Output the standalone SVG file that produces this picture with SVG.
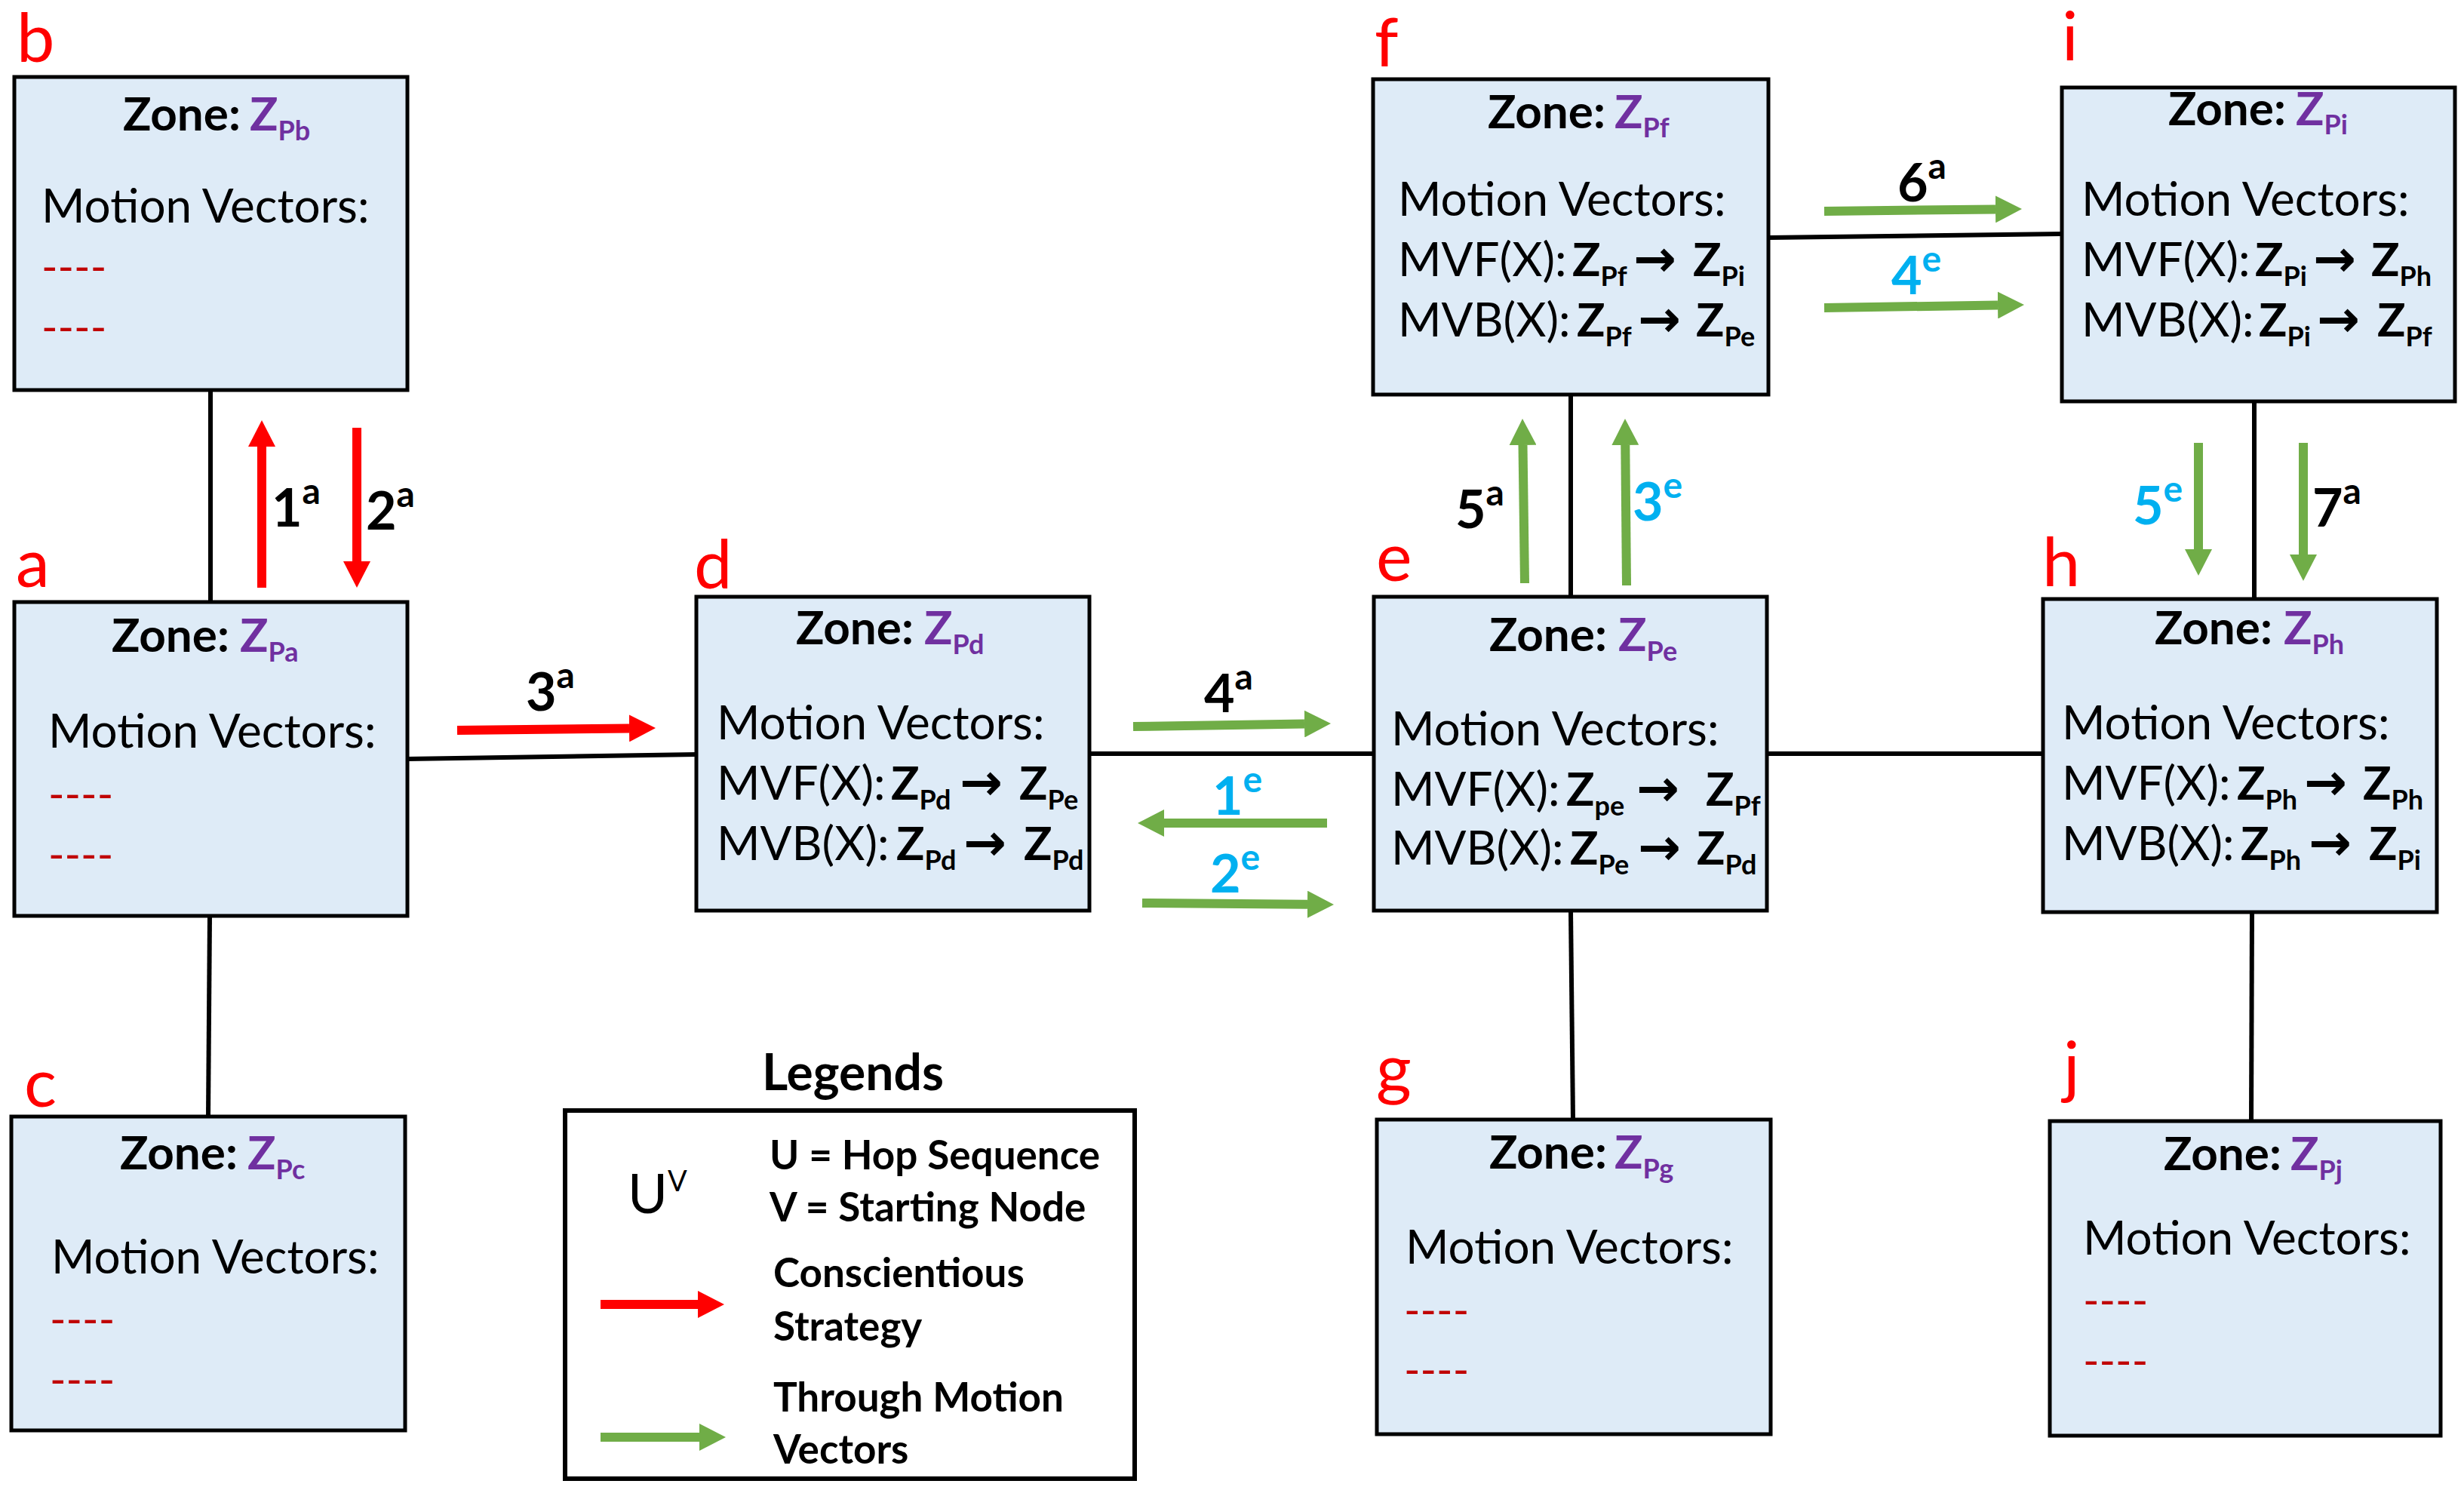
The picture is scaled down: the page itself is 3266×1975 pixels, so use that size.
<svg xmlns="http://www.w3.org/2000/svg" width="3266" height="1975" viewBox="0 0 3266 1975">
<defs>
<style>
.box{fill:#DEEBF7;stroke:#000;stroke-width:5}
.conn{stroke:#000;stroke-width:6;fill:none}
.t{font-family:Lato,'Liberation Sans',sans-serif;font-size:62px;fill:#000}
.b{font-weight:bold}
.z{fill:#7030A0;font-weight:bold}
.sub{font-size:36px}
.dash{fill:#C00000;font-size:58px}
.lbl{font-family:Lato,'Liberation Sans',sans-serif;font-size:90px;fill:#FF0000}
.num{font-family:Lato,'Liberation Sans',sans-serif;font-weight:bold;font-size:70px;fill:#000}
.blue{fill:#00B0F0}
.sup{font-size:48px}
.arr{font-family:'DejaVu Sans',sans-serif;font-weight:bold;font-size:68px}
.ra{stroke:#FF0000;stroke-width:12;fill:none;marker-end:url(#hr)}
.ga{stroke:#70AD47;stroke-width:12;fill:none;marker-end:url(#hg)}
.leg{font-family:Lato,'Liberation Sans',sans-serif;font-weight:bold;font-size:53px;fill:#000}
.title{font-size:66px}
.u{font-family:Lato,'Liberation Sans',sans-serif;font-size:72px;fill:#000}
.usup{font-size:38px}
</style>
<marker id="hr" markerUnits="userSpaceOnUse" markerWidth="36" markerHeight="36" refX="0" refY="18" orient="auto" viewBox="0 0 36 36"><path d="M0,0 L35,18 L0,36 Z" fill="#FF0000"/></marker>
<marker id="hg" markerUnits="userSpaceOnUse" markerWidth="36" markerHeight="36" refX="0" refY="18" orient="auto" viewBox="0 0 36 36"><path d="M0,0 L35,18 L0,36 Z" fill="#70AD47"/></marker>
</defs>
<rect width="3266" height="1975" fill="#fff"/>

<g id="connectors">
<line class="conn" x1="279" y1="518" x2="279" y2="798"/>
<line class="conn" x1="278" y1="1214" x2="276" y2="1480"/>
<line class="conn" x1="540" y1="1006" x2="923" y2="1000"/>
<line class="conn" x1="1444" y1="999" x2="1821" y2="999"/>
<line class="conn" x1="2342" y1="999" x2="2708" y2="999"/>
<line class="conn" x1="2082" y1="523" x2="2082" y2="791"/>
<line class="conn" x1="2082" y1="1207" x2="2085" y2="1484"/>
<line class="conn" x1="2344" y1="315" x2="2733" y2="310"/>
<line class="conn" x1="2988" y1="532" x2="2988" y2="794"/>
<line class="conn" x1="2985" y1="1209" x2="2984" y2="1486"/>
</g>

<g id="hops">
<line class="ra" x1="347" y1="779" x2="347" y2="592"/>
<line class="ra" x1="473" y1="567" x2="473" y2="744"/>
<line class="ra" x1="606" y1="968" x2="834" y2="965.4"/>
<line class="ga" x1="1502" y1="963" x2="1729" y2="959.5"/>
<line class="ga" x1="1759" y1="1091" x2="1543" y2="1091"/>
<line class="ga" x1="1514" y1="1197" x2="1733" y2="1198.7"/>
<line class="ga" x1="2021" y1="773" x2="2018.5" y2="590"/>
<line class="ga" x1="2156" y1="776" x2="2154.3" y2="590"/>
<line class="ga" x1="2418" y1="280" x2="2645" y2="277.4"/>
<line class="ga" x1="2418" y1="408" x2="2648" y2="404.5"/>
<line class="ga" x1="2914" y1="587" x2="2914" y2="728"/>
<line class="ga" x1="3053" y1="587" x2="3053" y2="735"/>
<text class="num" x="360" y="698">1<tspan class="sup" dy="-30">a</tspan></text>
<text class="num" x="485" y="702">2<tspan class="sup" dy="-30">a</tspan></text>
<text class="num" x="697" y="942">3<tspan class="sup" dy="-30">a</tspan></text>
<text class="num" x="1596" y="944">4<tspan class="sup" dy="-30">a</tspan></text>
<text class="num blue" x="1607" y="1080">1<tspan class="sup" dy="-30">e</tspan></text>
<text class="num blue" x="1604" y="1183">2<tspan class="sup" dy="-30">e</tspan></text>
<text class="num" x="1929" y="700">5<tspan class="sup" dy="-30">a</tspan></text>
<text class="num blue" x="2164" y="690">3<tspan class="sup" dy="-30">e</tspan></text>
<text class="num" x="2515" y="267">6<tspan class="sup" dy="-30">a</tspan></text>
<text class="num blue" x="2507" y="390">4<tspan class="sup" dy="-30">e</tspan></text>
<text class="num blue" x="2827" y="695">5<tspan class="sup" dy="-30">e</tspan></text>
<text class="num" x="3065" y="698">7<tspan class="sup" dy="-30">a</tspan></text>
</g>

<g id="node-b">
<text class="lbl" x="22" y="82">b</text>
<rect class="box" x="19" y="102" width="521" height="415"/>
<text class="t b" x="163" y="173">Zone:<tspan class="z" x="331">Z</tspan><tspan class="z sub" dy="13">Pb</tspan></text>
<text class="t" x="55" y="295">Motion Vectors:</text>
<text class="t dash" x="55" y="374">----</text>
<text class="t dash" x="55" y="454">----</text>
</g>

<g id="node-a">
<text class="lbl" x="21" y="778">a</text>
<rect class="box" x="19" y="798" width="521" height="416"/>
<text class="t b" x="148" y="864">Zone:<tspan class="z" x="318">Z</tspan><tspan class="z sub" dy="13">Pa</tspan></text>
<text class="t" x="64" y="991">Motion Vectors:</text>
<text class="t dash" x="64" y="1073">----</text>
<text class="t dash" x="64" y="1153">----</text>
</g>

<g id="node-c">
<text class="lbl" x="32" y="1467">c</text>
<rect class="box" x="15" y="1480" width="522" height="416"/>
<text class="t b" x="159" y="1550">Zone:<tspan class="z" x="328">Z</tspan><tspan class="z sub" dy="13">Pc</tspan></text>
<text class="t" x="68" y="1688">Motion Vectors:</text>
<text class="t dash" x="66" y="1769">----</text>
<text class="t dash" x="66" y="1849">----</text>
</g>

<g id="node-d">
<text class="lbl" x="920" y="780">d</text>
<rect class="box" x="923" y="791" width="521" height="416"/>
<text class="t b" x="1055" y="854">Zone:<tspan class="z" x="1225">Z</tspan><tspan class="z sub" dy="13">Pd</tspan></text>
<text class="t" x="950" y="980">Motion Vectors:</text>
<text class="t" x="950" y="1060">MVF(X):<tspan class="b" x="1181">Z</tspan><tspan class="b sub" dy="13">Pd</tspan><tspan class="arr" x="1272" y="1060">→</tspan><tspan class="b" x="1351">Z</tspan><tspan class="b sub" dy="13">Pe</tspan></text>
<text class="t" x="950" y="1140">MVB(X):<tspan class="b" x="1188">Z</tspan><tspan class="b sub" dy="13">Pd</tspan><tspan class="arr" x="1277" y="1140">→</tspan><tspan class="b" x="1357">Z</tspan><tspan class="b sub" dy="13">Pd</tspan></text>
</g>

<g id="node-e">
<text class="lbl" x="1824" y="770">e</text>
<rect class="box" x="1821" y="791" width="521" height="416"/>
<text class="t b" x="1974" y="863">Zone:<tspan class="z" x="2145">Z</tspan><tspan class="z sub" dy="13">Pe</tspan></text>
<text class="t" x="1844" y="988">Motion Vectors:</text>
<text class="t" x="1844" y="1068">MVF(X):<tspan class="b" x="2076">Z</tspan><tspan class="b sub" dy="13">pe</tspan><tspan class="arr" x="2169" y="1068">→</tspan><tspan class="b" x="2261">Z</tspan><tspan class="b sub" dy="13">Pf</tspan></text>
<text class="t" x="1844" y="1146">MVB(X):<tspan class="b" x="2081">Z</tspan><tspan class="b sub" dy="13">Pe</tspan><tspan class="arr" x="2171" y="1146">→</tspan><tspan class="b" x="2249">Z</tspan><tspan class="b sub" dy="13">Pd</tspan></text>
</g>

<g id="node-f">
<text class="lbl" x="1822" y="88">f</text>
<rect class="box" x="1820" y="105" width="524" height="418"/>
<text class="t b" x="1972" y="170">Zone:<tspan class="z" x="2140">Z</tspan><tspan class="z sub" dy="12">Pf</tspan></text>
<text class="t" x="1853" y="286">Motion Vectors:</text>
<text class="t" x="1853" y="366">MVF(X):<tspan class="b" x="2084">Z</tspan><tspan class="b sub" dy="13">Pf</tspan><tspan class="arr" x="2165" y="366">→</tspan><tspan class="b" x="2244">Z</tspan><tspan class="b sub" dy="13">Pi</tspan></text>
<text class="t" x="1853" y="446">MVB(X):<tspan class="b" x="2090">Z</tspan><tspan class="b sub" dy="13">Pf</tspan><tspan class="arr" x="2171" y="446">→</tspan><tspan class="b" x="2248">Z</tspan><tspan class="b sub" dy="13">Pe</tspan></text>
</g>

<g id="node-i">
<text class="lbl" x="2733" y="80">i</text>
<rect class="box" x="2733" y="116" width="521" height="416"/>
<text class="t b" x="2874" y="166">Zone:<tspan class="z" x="3043">Z</tspan><tspan class="z sub" dy="12">Pi</tspan></text>
<text class="t" x="2759" y="286">Motion Vectors:</text>
<text class="t" x="2759" y="366">MVF(X):<tspan class="b" x="2989">Z</tspan><tspan class="b sub" dy="13">Pi</tspan><tspan class="arr" x="3066" y="366">→</tspan><tspan class="b" x="3143">Z</tspan><tspan class="b sub" dy="13">Ph</tspan></text>
<text class="t" x="2759" y="446">MVB(X):<tspan class="b" x="2994">Z</tspan><tspan class="b sub" dy="13">Pi</tspan><tspan class="arr" x="3071" y="446">→</tspan><tspan class="b" x="3151">Z</tspan><tspan class="b sub" dy="13">Pf</tspan></text>
</g>

<g id="node-h">
<text class="lbl" x="2707" y="777">h</text>
<rect class="box" x="2708" y="794" width="522" height="415"/>
<text class="t b" x="2856" y="854">Zone:<tspan class="z" x="3027">Z</tspan><tspan class="z sub" dy="13">Ph</tspan></text>
<text class="t" x="2733" y="980">Motion Vectors:</text>
<text class="t" x="2733" y="1060">MVF(X):<tspan class="b" x="2965">Z</tspan><tspan class="b sub" dy="13">Ph</tspan><tspan class="arr" x="3054" y="1060">→</tspan><tspan class="b" x="3132">Z</tspan><tspan class="b sub" dy="13">Ph</tspan></text>
<text class="t" x="2733" y="1140">MVB(X):<tspan class="b" x="2970">Z</tspan><tspan class="b sub" dy="13">Ph</tspan><tspan class="arr" x="3060" y="1140">→</tspan><tspan class="b" x="3140">Z</tspan><tspan class="b sub" dy="13">Pi</tspan></text>
</g>

<g id="node-g">
<text class="lbl" x="1824" y="1448">g</text>
<rect class="box" x="1825" y="1484" width="522" height="417"/>
<text class="t b" x="1974" y="1549">Zone:<tspan class="z" x="2140">Z</tspan><tspan class="z sub" dy="13">Pg</tspan></text>
<text class="t" x="1863" y="1675">Motion Vectors:</text>
<text class="t dash" x="1861" y="1757">----</text>
<text class="t dash" x="1861" y="1836">----</text>
</g>

<g id="node-j">
<text class="lbl" x="2735" y="1445">j</text>
<rect class="box" x="2717" y="1486" width="518" height="417"/>
<text class="t b" x="2868" y="1551">Zone:<tspan class="z" x="3036">Z</tspan><tspan class="z sub" dy="13">Pj</tspan></text>
<text class="t" x="2761" y="1663">Motion Vectors:</text>
<text class="t dash" x="2761" y="1744">----</text>
<text class="t dash" x="2761" y="1824">----</text>
</g>

<g id="legend">
<text class="leg title" x="1010" y="1445">Legends</text>
<rect x="749" y="1472" width="755" height="488" fill="#fff" stroke="#000" stroke-width="6"/>
<text class="u" x="832" y="1608">U<tspan class="usup" dy="-29">V</tspan></text>
<text class="leg" x="1020" y="1550">U = Hop Sequence</text>
<text class="leg" x="1020" y="1619">V = Starting Node</text>
<text class="leg" x="1025" y="1706">Conscientious</text>
<text class="leg" x="1025" y="1777">Strategy</text>
<text class="leg" x="1025" y="1871">Through Motion</text>
<text class="leg" x="1025" y="1940">Vectors</text>
<line class="ra" x1="796" y1="1729" x2="925" y2="1729"/>
<line class="ga" x1="796" y1="1905" x2="927" y2="1905"/>
</g>
</svg>
